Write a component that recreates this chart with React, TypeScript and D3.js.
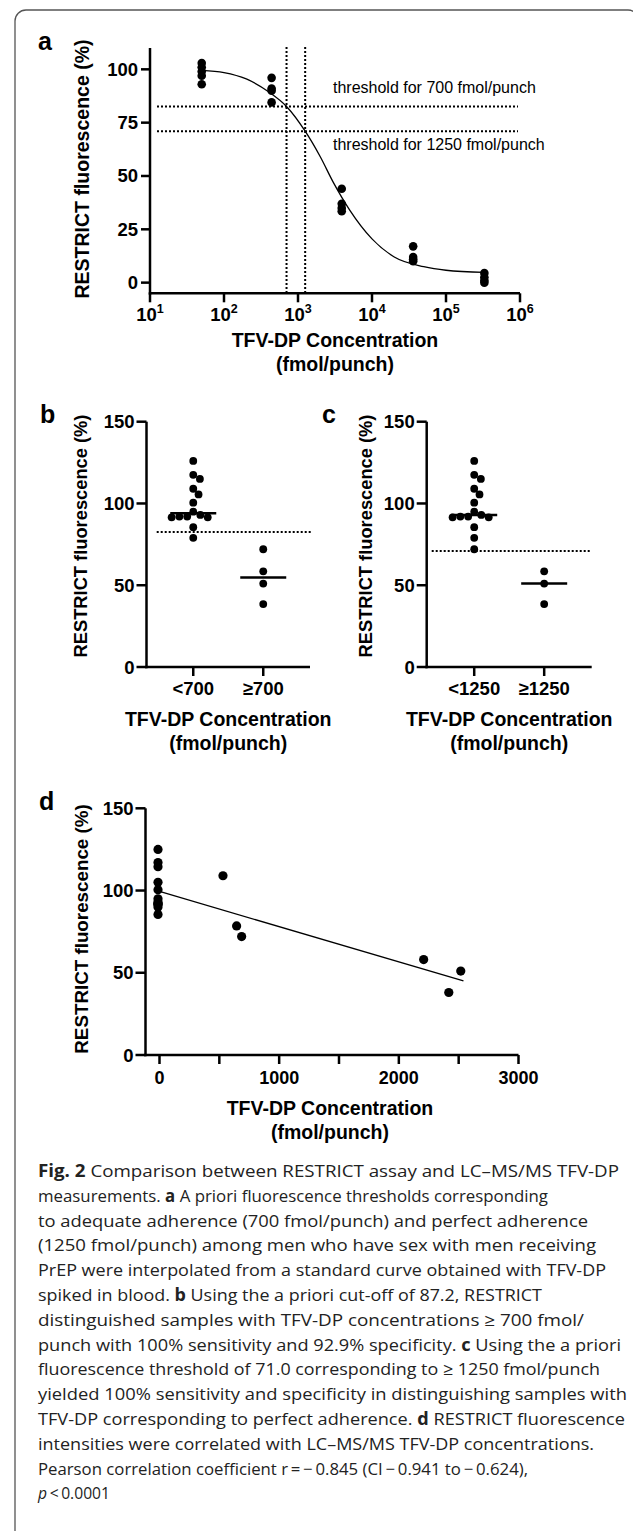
import React from 'react';
import * as d3 from 'd3';

// ---- panel a : standard curve, TFV-DP spiked in blood ----
const stdConc = [50, 440, 3900, 36000, 330000];
const stdReps = [
  [103, 101, 99, 97, 93],
  [96, 91, 90, 84.5],
  [44, 37, 35, 33.5],
  [17, 12, 11, 10],
  [4.5, 2.5, 1, 0],
];
// fitted sigmoid
const fitConc = [50, 100, 200, 400, 700, 1250, 2000, 3000, 5000, 10000, 20000, 50000, 100000, 330000];
const fitVal = [99.5, 98.5, 95.5, 89.5, 82.6, 71, 59, 47, 34, 20.5, 12, 7.5, 5.8, 4.8];
const thrConc = [700, 1250];
const thrFluor = [82.6, 71];
const thrLabels = ['threshold for 700 fmol/punch', 'threshold for 1250 fmol/punch'];
const logTicks = [1, 2, 3, 4, 5, 6];
const yTicksA = [0, 25, 50, 75, 100];

// ---- panels b, c : patient samples ----
const below700 = [126, 117.5, 115, 109, 105.5, 100.5, 95, 93, 92, 92, 91.5, 91.5, 85.5, 79];
const from700to1250 = [72];
const above1250 = [58.5, 51, 38.5];
const catsB = ['<700', '≥700'];
const catsC = ['<1250', '≥1250'];
const yTicksBC = [0, 50, 100, 150];

// ---- panel d : correlation ----
const dConc = [0, 0, 0, 0, 0, 0, 0, 0, 0, 0, 0, 0, 543, 657, 699, 2220, 2430, 2530];
const dFluor = [125, 117, 114.5, 105, 100.5, 95, 93, 92, 92, 91.5, 90, 85.5, 109, 78.5, 72, 58, 38, 51];
const regConc = [0, 2540];
const regFluor = [99.5, 45];
const xTicksD = [0, 500, 1000, 1500, 2000, 2500, 3000];

const caption: [string, string][][] = [
  [['b', 'Fig. 2'], ['n', '  Comparison between RESTRICT assay and LC–MS/MS TFV-DP']],
  [['n', 'measurements. '], ['b', 'a'], ['n', ' A priori fluorescence thresholds corresponding']],
  [['n', 'to adequate adherence (700  fmol/punch) and perfect adherence']],
  [['n', '(1250 fmol/punch) among men who have sex with men receiving']],
  [['n', 'PrEP were interpolated from a standard curve obtained with TFV-DP']],
  [['n', 'spiked in blood. '], ['b', 'b'], ['n', ' Using the a priori cut-off of 87.2, RESTRICT']],
  [['n', 'distinguished samples with TFV-DP concentrations ≥ 700 fmol/']],
  [['n', 'punch with 100% sensitivity and 92.9% specificity. '], ['b', 'c'], ['n', ' Using the a priori']],
  [['n', 'fluorescence threshold of 71.0 corresponding to ≥ 1250 fmol/punch']],
  [['n', 'yielded 100% sensitivity and specificity in distinguishing samples with']],
  [['n', 'TFV-DP corresponding to perfect adherence. '], ['b', 'd'], ['n', ' RESTRICT fluorescence']],
  [['n', 'intensities were correlated with LC–MS/MS TFV-DP concentrations.']],
  [['n', 'Pearson correlation coefficient r\u2009=\u2009−\u20090.845 (CI\u2009−\u20090.941 to\u2009−\u20090.624),']],
  [['i', 'p'], ['n', '\u2009<\u20090.0001']],
];
const captionEnds = [619, 548, 588, 596, 606, 542, 584, 621, 600, 627, 625, 594, 528, 110];

const FONT = "'Liberation Sans', Arial, Helvetica, sans-serif";
const AXW = 2.5;

function swarm(vals: number[], y: (v: number) => number, cx: number, r: number) {
  const placed: { x: number; y: number }[] = [];
  const sorted = [...vals].sort((a, b) => b - a);
  for (const v of sorted) {
    const py = y(v);
    const cands = [0];
    for (const p of placed) {
      const dy = Math.abs(p.y - py);
      if (dy < 2 * r) {
        const dx = Math.sqrt(4 * r * r - dy * dy);
        cands.push(p.x - cx + dx, p.x - cx - dx);
      }
    }
    cands.sort((a, b) => Math.abs(a) - Math.abs(b));
    const ok = cands.find(c => placed.every(p => Math.hypot(p.x - (cx + c), p.y - py) >= 2 * r - 0.01));
    placed.push({ x: cx + (ok ?? 0), y: py });
  }
  return placed;
}

const YLabel = ({ x, y, size }: { x: number; y: number; size: number }) => (
  <text transform={`translate(${x},${y}) rotate(-90)`} textAnchor="middle" fontSize={size} fontWeight="bold">
    RESTRICT fluorescence (%)
  </text>
);

const XTitle = ({ cx, y }: { cx: number; y: number }) => (
  <g textAnchor="middle" fontSize={19.5} fontWeight="bold">
    <text x={cx} y={y}>TFV-DP Concentration</text>
    <text x={cx} y={y + 23.5}>(fmol/punch)</text>
  </g>
);

function PanelA() {
  const x = d3.scaleLog().domain([10, 1e6]).range([150, 520]);
  const y = d3.scaleLinear().domain([-5, 110]).range([293.3, 48]);
  const fit = d3.line<number>().x((_, i) => x(fitConc[i])).y(d => y(d)).curve(d3.curveMonotoneX)(fitVal) || '';
  const x0 = 150, yb = y(-5);
  return (
    <g fontFamily={FONT} fill="#000">
      <text x={38} y={50} fontSize={25} fontWeight="bold">a</text>
      <YLabel x={89} y={169} size={19.5} />
      {thrFluor.map((t, i) => (
        <line key={'h' + i} x1={157} x2={518} y1={y(t)} y2={y(t)} stroke="#000" strokeWidth={2} strokeDasharray="2 2" />
      ))}
      {thrConc.map((c, i) => (
        <line key={'v' + i} x1={x(c)} x2={x(c)} y1={47} y2={yb} stroke="#000" strokeWidth={2} strokeDasharray="2 2" />
      ))}
      <text x={333} y={y(thrFluor[0]) - 13} fontSize={16}>{thrLabels[0]}</text>
      <text x={333} y={y(thrFluor[1]) + 19} fontSize={16}>{thrLabels[1]}</text>
      <path d={fit} fill="none" stroke="#000" strokeWidth={1.3} />
      {stdConc.map((c, i) => stdReps[i].map((v, j) => (
        <circle key={i + '-' + j} cx={x(c)} cy={y(v)} r={4.3} />
      )))}
      <line x1={x0} x2={x0} y1={48} y2={yb + AXW / 2} stroke="#000" strokeWidth={AXW} />
      <line x1={x0 - AXW / 2} x2={520} y1={yb} y2={yb} stroke="#000" strokeWidth={AXW} />
      {yTicksA.map(t => (
        <g key={t}>
          <line x1={x0 - 9} x2={x0} y1={y(t)} y2={y(t)} stroke="#000" strokeWidth={AXW} />
          <text x={x0 - 12} y={y(t) + 6.5} textAnchor="end" fontSize={18.5} fontWeight="bold">{t}</text>
        </g>
      ))}
      {logTicks.map(e => (
        <g key={e}>
          <line x1={x(10 ** e)} x2={x(10 ** e)} y1={yb} y2={yb + 9} stroke="#000" strokeWidth={AXW} />
          <text x={x(10 ** e)} y={321} textAnchor="middle" fontSize={18.5} fontWeight="bold">
            10<tspan dy={-8} fontSize={12.5}>{e}</tspan>
          </text>
        </g>
      ))}
      <XTitle cx={335} y={347} />
    </g>
  );
}

type GP = {
  letter: string; letterX: number; x0: number; x1: number; pad: number;
  cats: string[]; groups: number[][]; thr: number; thrX: [number, number]; labelX: number;
};

function GroupPanel({ letter, letterX, x0, x1, pad, cats, groups, thr, thrX, labelX }: GP) {
  const y = d3.scaleLinear().domain([0, 150]).range([667, 421.7]);
  const x = d3.scalePoint<string>().domain(cats).range([x0, x1]).padding(pad);
  const yb = y(0);
  return (
    <g fontFamily={FONT} fill="#000">
      <text x={letterX} y={423} fontSize={25} fontWeight="bold">{letter}</text>
      <YLabel x={labelX} y={536} size={18.3} />
      <line x1={thrX[0]} x2={thrX[1]} y1={y(thr)} y2={y(thr)} stroke="#000" strokeWidth={2} strokeDasharray="2 2" />
      {groups.map((g, gi) => {
        const cx = x(cats[gi]) as number;
        const pts = swarm(g, y, cx, 3.9);
        const med = d3.median(g) as number;
        return (
          <g key={gi}>
            {pts.map((p, i) => <circle key={i} cx={p.x} cy={p.y} r={3.9} />)}
            <line x1={cx - 23} x2={cx + 23} y1={y(med)} y2={y(med)} stroke="#000" strokeWidth={2.5} />
          </g>
        );
      })}
      <line x1={x0} x2={x0} y1={y(150)} y2={yb + AXW / 2} stroke="#000" strokeWidth={AXW} />
      <line x1={x0 - AXW / 2} x2={x1} y1={yb} y2={yb} stroke="#000" strokeWidth={AXW} />
      {yTicksBC.map(t => (
        <g key={t}>
          <line x1={x0 - 10} x2={x0} y1={y(t)} y2={y(t)} stroke="#000" strokeWidth={AXW} />
          <text x={x0 - 12} y={y(t) + 6.5} textAnchor="end" fontSize={18.5} fontWeight="bold">{t}</text>
        </g>
      ))}
      {cats.map(c => (
        <g key={c}>
          <line x1={x(c)} x2={x(c)} y1={yb} y2={yb + 9} stroke="#000" strokeWidth={AXW} />
          <text x={x(c)} y={695} textAnchor="middle" fontSize={18.5} fontWeight="bold">{c}</text>
        </g>
      ))}
      <XTitle cx={(x0 + x1) / 2} y={726} />
    </g>
  );
}

function PanelD() {
  const x = d3.scaleLinear().domain([-117, 3000]).range([145.5, 518.5]);
  const y = d3.scaleLinear().domain([0, 150]).range([1055, 808.3]);
  const reg = d3.line<number>().x((_, i) => x(regConc[i])).y(d => y(d))(regFluor) || '';
  const x0 = 145.5, yb = y(0);
  return (
    <g fontFamily={FONT} fill="#000">
      <text x={39} y={810} fontSize={25} fontWeight="bold">d</text>
      <YLabel x={88} y={929} size={18.8} />
      <path d={reg} fill="none" stroke="#000" strokeWidth={1.3} />
      {dConc.map((c, i) => <circle key={i} cx={x(c) - 1.5} cy={y(dFluor[i])} r={4.6} />)}
      <line x1={x0} x2={x0} y1={y(150)} y2={yb + AXW / 2} stroke="#000" strokeWidth={AXW} />
      <line x1={x0 - AXW / 2} x2={518.5} y1={yb} y2={yb} stroke="#000" strokeWidth={AXW} />
      {yTicksBC.map(t => (
        <g key={t}>
          <line x1={x0 - 10} x2={x0} y1={y(t)} y2={y(t)} stroke="#000" strokeWidth={AXW} />
          <text x={x0 - 12} y={y(t) + 6.5} textAnchor="end" fontSize={18.5} fontWeight="bold">{t}</text>
        </g>
      ))}
      {xTicksD.map(t => (
        <g key={t}>
          <line x1={x(t)} x2={x(t)} y1={yb} y2={yb + 9} stroke="#000" strokeWidth={AXW} />
          {t % 1000 === 0 && (
            <text x={x(t)} y={1084} textAnchor="middle" fontSize={18} fontWeight="bold">{t}</text>
          )}
        </g>
      ))}
      <XTitle cx={330} y={1115} />
    </g>
  );
}

function Caption() {
  return (
    <g fontFamily="'Open Sans', 'Noto Sans', sans-serif" fontSize={17} fill="#222" style={{ whiteSpace: 'pre' }}>
      {caption.map((segs, i) => (
        <text key={i} x={38} y={1177 + i * 24.8} textLength={captionEnds[i] - 38} lengthAdjust="spacingAndGlyphs">
          {segs.map(([k, s], j) => (
            <tspan key={j} fontWeight={k === 'b' ? 'bold' : 'normal'} fontStyle={k === 'i' ? 'italic' : 'normal'}>{s}</tspan>
          ))}
        </text>
      ))}
    </g>
  );
}

export default function App() {
  return (
    <svg width={633} height={1531} style={{ position: 'absolute', left: 0, top: 0, background: '#fff' }}>
      <rect x={15} y={10} width={624} height={1540} rx={11} fill="none" stroke="#555" strokeWidth={1.3} />
      <PanelA />
      <GroupPanel letter="b" letterX={40} x0={146.5} x1={310} pad={0.668} cats={catsB}
        groups={[below700, [...from700to1250, ...above1250]]} thr={thrFluor[0]} thrX={[156.7, 311]} labelX={87} />
      <GroupPanel letter="c" letterX={322} x0={426.7} x1={591.7} pad={0.679} cats={catsC}
        groups={[[...below700, ...from700to1250], above1250]} thr={thrFluor[1]} thrX={[431.7, 590]} labelX={372} />
      <PanelD />
      <Caption />
    </svg>
  );
}
